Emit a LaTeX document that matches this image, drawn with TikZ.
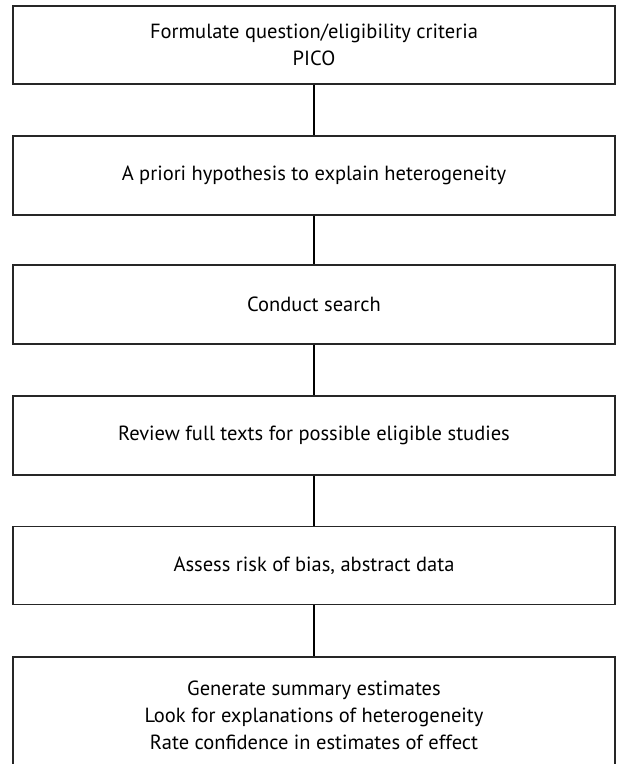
\documentclass[tikz,border=0pt]{standalone}
\usepackage{fontspec}
\setmainfont{PT Sans}
\begin{document}
\begin{tikzpicture}[x=1pt,y=-1pt,
  stepbox/.style={draw=black!85, line width=1.2pt, minimum width=602pt, inner sep=0pt, align=center, font=\fontsize{20.5}{27}\selectfont},
  link/.style={line width=2pt, black}]
\useasboundingbox (0,0) rectangle (617,764);
\clip (0,0) rectangle (617,764);
\node[stepbox, minimum height=78pt] (b1) at (314,45) {Formulate question/eligibility criteria\\PICO};
\node[stepbox, minimum height=79pt] (b2) at (314,175.5) {A priori hypothesis to explain heterogeneity};
\node[stepbox, minimum height=79pt] (b3) at (314,304.5) {Conduct search};
\node[stepbox, minimum height=79pt] (b4) at (314,435.5) {Review full texts for possible eligible studies};
\node[stepbox, minimum height=78pt] (b5) at (314,565.5) {Assess risk of bias, abstract data};
\node[stepbox, minimum height=116pt] (b6) at (314,715) {Generate summary estimates\\Look for explanations of heterogeneity\\Rate confidence in estimates of effect};
\draw[link] (b1.south) -- (b2.north);
\draw[link] (b2.south) -- (b3.north);
\draw[link] (b3.south) -- (b4.north);
\draw[link] (b4.south) -- (b5.north);
\draw[link] (b5.south) -- (b6.north);
\end{tikzpicture}
\end{document}
